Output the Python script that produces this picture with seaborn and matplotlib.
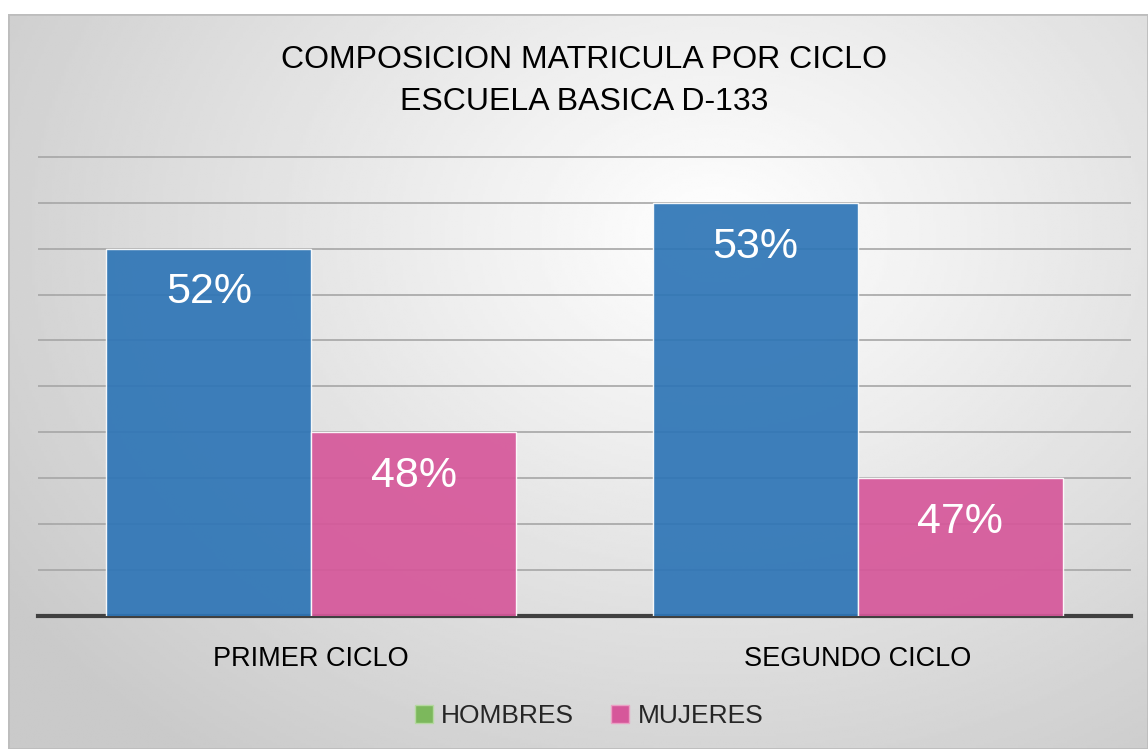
import numpy as np
import pandas as pd
import matplotlib.pyplot as plt
import seaborn as sns
from matplotlib.patches import Patch

ciclos = ["PRIMER CICLO", "SEGUNDO CICLO"]
generos = ["HOMBRES", "MUJERES"]
hombres = [52, 53]
mujeres = [48, 47]
etiquetas = [["52%", "53%"], ["48%", "47%"]]

df = pd.DataFrame({
    "ciclo": ciclos * 2,
    "genero": [generos[0]] * 2 + [generos[1]] * 2,
    "valor": hombres + mujeres,
})

sns.set_style("white")
plt.rcParams["font.family"] = ["Liberation Sans", "DejaVu Sans"]

W, H = 1148, 749
fig = plt.figure(figsize=(W / 100, H / 100), dpi=100)
fig.patch.set_facecolor("white")

# radial grey background behind the chart
bg = fig.add_axes([8 / W, 0, 1 - 8 / W, 1 - 14 / H])
yy, xx = np.mgrid[0:1:300j, 0:1:400j]
r = np.sqrt(((xx - 0.62) / 0.75) ** 2 + ((yy - 0.3) / 0.9) ** 2)
shade = 1 - 0.21 * np.clip(r, 0, 1)
bg.imshow(shade, cmap="gray", vmin=0, vmax=1, aspect="auto", extent=[0, 1, 1, 0])
bg.set_axis_off()
bg.add_patch(plt.Rectangle((0, 0), 1, 1, fill=False, ec="#bdbdbd", lw=2,
                           transform=bg.transAxes))

ax = fig.add_axes([38 / W, 1 - 616 / H, (1131 - 38) / W, (616 - 120) / H])
ax.patch.set_alpha(0)
sns.barplot(data=df, x="ciclo", y="valor", hue="genero", order=ciclos,
            hue_order=generos, palette=["#2e75b6", "#d6579a"], width=0.75,
            saturation=1, alpha=0.92, ax=ax, legend=False, zorder=3)

ax.set_ylim(44, 54.8)
ax.set_yticks(np.arange(45, 55, 1))
ax.yaxis.grid(True, color="#a6a6a6", lw=1.2, zorder=0)
ax.set_axisbelow(True)
ax.set_xlim(-0.5, 1.5)
ax.tick_params(axis="y", left=False, labelleft=False)
ax.tick_params(axis="x", bottom=False, labelsize=19.5, pad=18, labelcolor="black")
ax.set_xlabel("")
ax.set_ylabel("")
for s in ["top", "right", "left"]:
    ax.spines[s].set_visible(False)
ax.spines["bottom"].set_color("#404040")
ax.spines["bottom"].set_linewidth(3)

for cont, labs in zip(ax.containers, etiquetas):
    ax.bar_label(cont, labels=labs, label_type="edge", padding=-46,
                 color="white", fontsize=31)

fig.text(0.509, 1 - 81 / H, "COMPOSICION MATRICULA POR CICLO\nESCUELA BASICA D-133",
         ha="center", va="center", fontsize=23, linespacing=1.55, color="black")

handles = [Patch(facecolor="#7cb85c", edgecolor="#b5d9a0"),
           Patch(facecolor="#d6579a", edgecolor="#eaa0c4")]
fig.legend(handles, generos, loc="center", bbox_to_anchor=(0.513, 1 - 716 / H),
           ncol=2, frameon=False, fontsize=19, handlelength=0.7,
           handleheight=0.7, handletextpad=0.3, columnspacing=1.4)

fig.savefig("out.png", dpi=100)
